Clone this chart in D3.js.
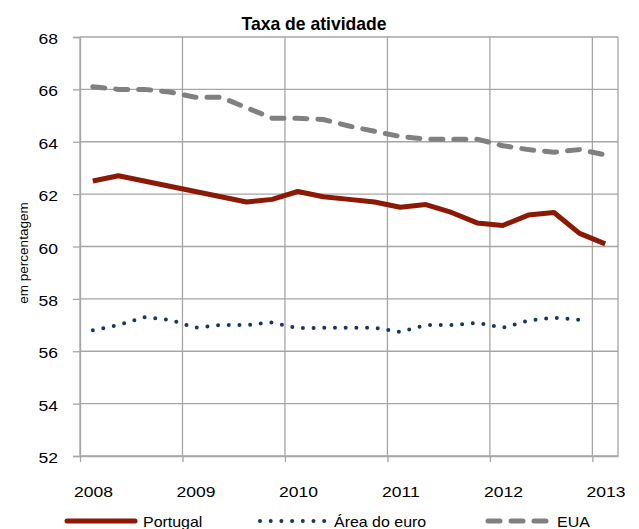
<!DOCTYPE html>
<html>
<head>
<meta charset="utf-8">
<script src="https://cdn.jsdelivr.net/npm/d3@7"></script>
<style>
  body { margin: 0; background: #fff; }
  text { font-family: "Liberation Sans", Arial, sans-serif; }
</style>
</head>
<body>
<div id="grafico"></div>
<script>
// Dados trimestrais (ponto no meio de cada trimestre)
const trimestres = ["2008T1","2008T2","2008T3","2008T4","2009T1","2009T2","2009T3","2009T4",
  "2010T1","2010T2","2010T3","2010T4","2011T1","2011T2","2011T3","2011T4",
  "2012T1","2012T2","2012T3","2012T4","2013T1"];

const portugal = [62.5, 62.7, 62.5, 62.3, 62.1, 61.9, 61.7, 61.8, 62.1, 61.9, 61.8, 61.7,
  61.5, 61.6, 61.3, 60.9, 60.8, 61.2, 61.3, 60.5, 60.1];

const areaEuro = [56.8, 57.0, 57.3, 57.2, 56.9, 57.0, 57.0, 57.1, 56.88, 56.9, 56.9, 56.9,
  56.74, 57.0, 57.0, 57.08, 56.9, 57.17, 57.28, 57.2];

const eua = [66.1, 66.0, 66.0, 65.9, 65.7, 65.7, 65.3, 64.9, 64.9, 64.85, 64.6, 64.4,
  64.2, 64.1, 64.1, 64.1, 63.85, 63.7, 63.6, 63.7, 63.5];

const anos = [2008, 2009, 2010, 2011, 2012, 2013];
const ticksY = [52, 54, 56, 58, 60, 62, 64, 66, 68];

const W = 639, H = 529;
const margem = { left: 80, right: 21, top: 37, bottom: 73 };
const FONTE = "'Liberation Sans', Arial, sans-serif";

const svg = d3.select("#grafico").append("svg")
  .attr("width", W).attr("height", H);

// alarga o texto na horizontal (a imagem original está esticada)
function esticar(sel, fator) {
  sel.each(function () {
    const comp = this.getComputedTextLength();
    d3.select(this).attr("textLength", comp * fator).attr("lengthAdjust", "spacingAndGlyphs");
  });
}

const x = d3.scaleLinear()
  .domain([2008, 2013.25])
  .range([margem.left, W - margem.right]);

const y = d3.scaleLinear()
  .domain([52, 68])
  .range([H - margem.bottom, margem.top]);

const tempo = t => +t.slice(0, 4) + (+t.slice(5) - 0.5) / 4;

// grelha
const g = svg.append("g");
g.selectAll(".gy").data(ticksY).enter().append("line")
  .attr("x1", x.range()[0]).attr("x2", x.range()[1])
  .attr("y1", d => y(d)).attr("y2", d => y(d))
  .attr("stroke", "#a6a6a6").attr("stroke-width", 1.3);
g.selectAll(".gx").data(anos).enter().append("line")
  .attr("x1", d => x(d)).attr("x2", d => x(d))
  .attr("y1", y.range()[0]).attr("y2", y.range()[1])
  .attr("stroke", "#a6a6a6").attr("stroke-width", 1.3);
g.append("line")
  .attr("x1", x.range()[1]).attr("x2", x.range()[1])
  .attr("y1", y.range()[0]).attr("y2", y.range()[1])
  .attr("stroke", "#a6a6a6").attr("stroke-width", 1.3);

// eixos
const eixoY = d3.axisLeft(y).tickValues(ticksY).tickSize(7).tickPadding(15);
svg.append("g")
  .attr("transform", `translate(${margem.left},0)`)
  .call(eixoY)
  .call(s => s.selectAll("path, line").attr("stroke", "#a6a6a6").attr("stroke-width", 1.3))
  .call(s => s.selectAll("text").attr("font-size", 15.5).attr("fill", "#000").attr("dy", "0.42em")
    .style("font-family", FONTE).call(esticar, 1.13));

const eixoX = d3.axisBottom(x).tickValues(anos).tickFormat(d3.format("d"))
  .tickSizeInner(6).tickSizeOuter(0).tickPadding(24);
svg.append("g")
  .attr("transform", `translate(0,${H - margem.bottom})`)
  .call(eixoX)
  .call(s => s.selectAll("path, line").attr("stroke", "#a6a6a6").attr("stroke-width", 1.3))
  .call(s => s.selectAll("text").attr("font-size", 15.5).attr("fill", "#000").attr("dx", 13)
    .style("font-family", FONTE).call(esticar, 1.13));

// linhas
const linha = d3.line()
  .x((d, i) => x(tempo(trimestres[i])))
  .y(d => y(d));

svg.append("path").datum(eua)
  .attr("d", linha).attr("fill", "none")
  .attr("stroke", "#808080").attr("stroke-width", 5)
  .attr("stroke-dasharray", "12,11").attr("stroke-linecap", "round");

svg.append("path").datum(areaEuro)
  .attr("d", linha).attr("fill", "none")
  .attr("stroke", "#17375e").attr("stroke-width", 4)
  .attr("stroke-dasharray", "0,10.7").attr("stroke-linecap", "round");

svg.append("path").datum(portugal)
  .attr("d", linha).attr("fill", "none")
  .attr("stroke", "#8b1a04").attr("stroke-width", 5)
  .attr("stroke-linejoin", "round");

// título
svg.append("text")
  .attr("x", 314).attr("y", 30)
  .attr("text-anchor", "middle")
  .attr("font-size", 19).attr("font-weight", "bold")
  .attr("textLength", 145).attr("lengthAdjust", "spacingAndGlyphs")
  .text("Taxa de atividade");

// rótulo do eixo Y
svg.append("text")
  .attr("transform", `translate(28,253) rotate(-90)`)
  .attr("text-anchor", "middle")
  .attr("font-size", 13.5)
  .text("em percentagem");

// legenda
const legenda = [
  { nome: "Portugal", cor: "#8b1a04", x1: 67, x2: 135, largura: 5, traco: null },
  { nome: "Área do euro", cor: "#17375e", x1: 260, x2: 326, largura: 4, traco: "0,10.7" },
  { nome: "EUA", cor: "#808080", x1: 488, x2: 549, largura: 5, traco: "12,11" }
];
const yl = 521;
const leg = svg.append("g");
legenda.forEach(l => {
  leg.append("line")
    .attr("x1", l.x1).attr("x2", l.x2).attr("y1", yl).attr("y2", yl)
    .attr("stroke", l.cor).attr("stroke-width", l.largura)
    .attr("stroke-linecap", "round")
    .attr("stroke-dasharray", l.traco);
  leg.append("text")
    .attr("x", l.x2 + 8).attr("y", yl + 6)
    .attr("font-size", 14.5)
    .text(l.nome)
    .call(esticar, 1.1);
});
</script>
</body>
</html>
